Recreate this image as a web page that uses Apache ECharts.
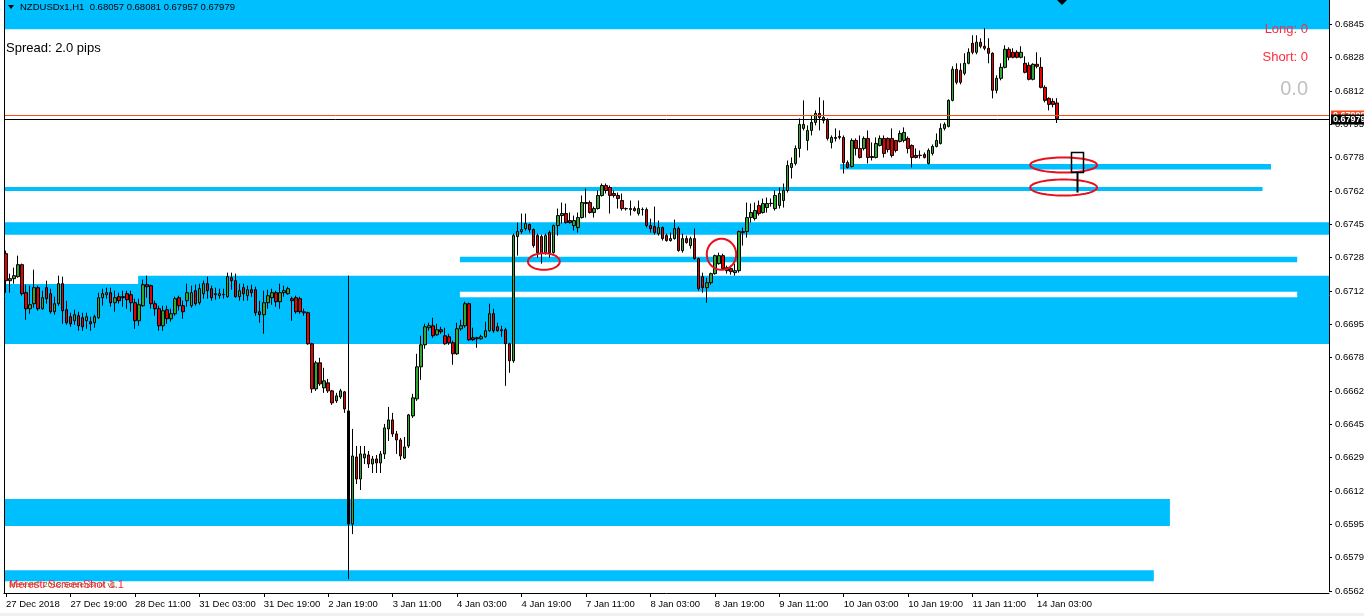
<!DOCTYPE html>
<html><head><meta charset="utf-8">
<script src="https://cdn.jsdelivr.net/npm/echarts@6/dist/echarts.min.js"></script>
<style>html,body{margin:0;padding:0;background:#fff;overflow:hidden}#chart{width:1364px;height:616px}</style>
</head><body><div id="chart"></div>
<script>
const headerText = 'NZDUSDx1,H1  0.68057 0.68081 0.67957 0.67979';
const xTickLabels = ['27 Dec 2018','27 Dec 19:00','28 Dec 11:00','31 Dec 03:00','31 Dec 19:00','2 Jan 19:00','3 Jan 11:00','4 Jan 03:00','4 Jan 19:00','7 Jan 11:00','8 Jan 03:00','8 Jan 19:00','9 Jan 11:00','10 Jan 03:00','10 Jan 19:00','11 Jan 11:00','14 Jan 03:00'];
const yTickLabels = ['0.65621','0.65790','0.65951','0.66120','0.66290','0.66451','0.66620','0.66784','0.66951','0.67120','0.67284','0.67451','0.67620','0.67781','0.67950','0.68120','0.68284','0.68450'];

const opens = [
0.67305,0.67170,0.67180,0.67190,0.67250,0.67110,0.67030,0.67055,0.67135,0.67030,
0.67135,0.67105,0.67015,0.67055,0.67155,0.67025,0.66990,0.66970,0.66995,0.66985,
0.66970,0.66965,0.66960,0.66985,0.67085,0.67100,0.67110,0.67060,0.67090,0.67090,
0.67105,0.67100,0.67060,0.66970,0.67045,0.67150,0.67145,0.67055,0.67030,0.66945,
0.67025,0.66980,0.67005,0.67085,0.67045,0.67070,0.67045,0.67120,0.67060,0.67105,
0.67155,0.67130,0.67105,0.67095,0.67100,0.67090,0.67185,0.67170,0.67090,0.67135,
0.67095,0.67125,0.67125,0.67015,0.67000,0.67060,0.67085,0.67110,0.67065,0.67110,
0.67105,0.67080,0.67085,0.67080,0.67015,0.67010,0.66855,0.66630,0.66760,0.66635,
0.66660,0.66620,0.66570,0.66590,0.66615,0.66520,0.65955,0.66290,0.66180,0.66285,
0.66300,0.66255,0.66280,0.66260,0.66305,0.66430,0.66475,0.66405,0.66375,0.66285,
0.66345,0.66495,0.66580,0.66740,0.66850,0.66935,0.66945,0.66900,0.66925,0.66895,
0.66890,0.66860,0.66805,0.66930,0.66945,0.67055,0.66885,0.66885,0.66880,0.66890,
0.66920,0.67005,0.66940,0.66925,0.66925,0.66855,0.66770,0.67390,0.67415,0.67430,
0.67450,0.67425,0.67395,0.67390,0.67310,0.67410,0.67310,0.67445,0.67495,0.67505,
0.67470,0.67445,0.67435,0.67485,0.67560,0.67560,0.67510,0.67530,0.67595,0.67645,
0.67635,0.67605,0.67595,0.67570,0.67530,0.67530,0.67530,0.67505,0.67525,0.67525,
0.67445,0.67440,0.67405,0.67435,0.67395,0.67370,0.67380,0.67430,0.67320,0.67380,
0.67345,0.67380,0.67280,0.67190,0.67135,0.67160,0.67205,0.67255,0.67295,0.67235,
0.67230,0.67210,0.67220,0.67415,0.67415,0.67485,0.67480,0.67545,0.67510,0.67535,
0.67555,0.67530,0.67545,0.67570,0.67620,0.67735,0.67755,0.67830,0.67930,0.67870,
0.67920,0.67960,0.68005,0.67970,0.67970,0.67860,0.67880,0.67890,0.67885,0.67760,
0.67740,0.67870,0.67830,0.67830,0.67880,0.67790,0.67785,0.67845,0.67880,0.67880,
0.67880,0.67870,0.67865,0.67870,0.67880,0.67845,0.67795,0.67795,0.67800,0.67755,
0.67805,0.67840,0.67855,0.67930,0.67940,0.68070,0.68225,0.68220,0.68205,0.68255,
0.68355,0.68310,0.68360,0.68340,0.68330,0.68305,0.68120,0.68180,0.68235,0.68325,
0.68310,0.68310,0.68285,0.68255,0.68245,0.68175,0.68250,0.68235,0.68135,0.68080,
0.68065,0.68057];
const highs = [
0.67320,0.67205,0.67235,0.67295,0.67255,0.67150,0.67145,0.67225,0.67145,0.67120,
0.67170,0.67130,0.67090,0.67195,0.67190,0.67070,0.67010,0.67025,0.67015,0.67010,
0.67010,0.66990,0.67000,0.67110,0.67130,0.67135,0.67135,0.67120,0.67110,0.67120,
0.67120,0.67120,0.67080,0.67080,0.67175,0.67195,0.67150,0.67070,0.67045,0.67045,
0.67045,0.67030,0.67090,0.67095,0.67070,0.67155,0.67145,0.67150,0.67155,0.67170,
0.67190,0.67145,0.67135,0.67130,0.67130,0.67210,0.67210,0.67205,0.67155,0.67155,
0.67145,0.67150,0.67140,0.67070,0.67120,0.67125,0.67130,0.67120,0.67155,0.67145,
0.67140,0.67090,0.67095,0.67090,0.67030,0.67015,0.66860,0.66770,0.66785,0.66735,
0.66680,0.66625,0.66610,0.66630,0.66620,0.66525,0.66430,0.66345,0.66345,0.66345,
0.66320,0.66295,0.66300,0.66320,0.66455,0.66540,0.66510,0.66420,0.66385,0.66390,
0.66505,0.66605,0.66805,0.66895,0.66955,0.66960,0.66985,0.66955,0.66940,0.66935,
0.66905,0.66870,0.66960,0.66975,0.67065,0.67060,0.66935,0.66890,0.66900,0.66965,
0.67055,0.67030,0.66960,0.66945,0.66935,0.66860,0.67405,0.67460,0.67505,0.67505,
0.67455,0.67430,0.67405,0.67400,0.67405,0.67420,0.67450,0.67530,0.67560,0.67555,
0.67510,0.67495,0.67510,0.67595,0.67630,0.67570,0.67540,0.67620,0.67655,0.67655,
0.67645,0.67620,0.67610,0.67605,0.67535,0.67570,0.67540,0.67570,0.67535,0.67535,
0.67480,0.67540,0.67470,0.67440,0.67405,0.67410,0.67475,0.67440,0.67405,0.67395,
0.67390,0.67430,0.67285,0.67210,0.67185,0.67210,0.67300,0.67310,0.67305,0.67245,
0.67245,0.67255,0.67420,0.67435,0.67560,0.67555,0.67560,0.67570,0.67580,0.67585,
0.67580,0.67620,0.67635,0.67655,0.67770,0.67785,0.67845,0.67980,0.68070,0.67945,
0.67995,0.68020,0.68085,0.68070,0.67980,0.67895,0.67930,0.67920,0.67895,0.67770,
0.67880,0.67880,0.67895,0.67890,0.67920,0.67860,0.67885,0.67895,0.67895,0.67885,
0.67930,0.67872,0.67920,0.67935,0.67890,0.67850,0.67830,0.67820,0.67810,0.67830,
0.67850,0.67905,0.67955,0.67960,0.68075,0.68240,0.68255,0.68255,0.68305,0.68330,
0.68395,0.68395,0.68380,0.68430,0.68380,0.68310,0.68195,0.68255,0.68345,0.68335,
0.68330,0.68320,0.68340,0.68290,0.68260,0.68255,0.68310,0.68285,0.68145,0.68085,
0.68080,0.68081];
const lows = [
0.67110,0.67110,0.67155,0.67185,0.67095,0.66975,0.67005,0.67035,0.67020,0.67025,
0.67055,0.67005,0.67000,0.67045,0.66955,0.66950,0.66940,0.66950,0.66920,0.66920,
0.66930,0.66920,0.66935,0.66980,0.67045,0.67080,0.67040,0.67015,0.67055,0.67040,
0.67030,0.67015,0.66930,0.66945,0.67040,0.67085,0.67030,0.66995,0.66920,0.66920,
0.66955,0.66965,0.66995,0.67020,0.66980,0.67040,0.67035,0.67045,0.67050,0.67080,
0.67080,0.67070,0.67075,0.67080,0.67080,0.67085,0.67125,0.67085,0.67070,0.67070,
0.67070,0.67090,0.66995,0.66960,0.66905,0.67030,0.67050,0.67040,0.67030,0.67090,
0.67100,0.66970,0.67005,0.67005,0.66995,0.66850,0.66610,0.66620,0.66645,0.66610,
0.66610,0.66550,0.66560,0.66580,0.66510,0.65945,0.65905,0.66155,0.66125,0.66255,
0.66235,0.66210,0.66210,0.66210,0.66280,0.66370,0.66390,0.66305,0.66275,0.66280,
0.66335,0.66485,0.66570,0.66675,0.66830,0.66920,0.66885,0.66895,0.66905,0.66850,
0.66850,0.66750,0.66800,0.66920,0.66935,0.66870,0.66870,0.66835,0.66875,0.66885,
0.66915,0.66910,0.66915,0.66890,0.66645,0.66710,0.66760,0.67295,0.67405,0.67420,
0.67410,0.67335,0.67285,0.67255,0.67300,0.67285,0.67305,0.67395,0.67455,0.67455,
0.67455,0.67420,0.67410,0.67480,0.67485,0.67505,0.67485,0.67525,0.67590,0.67605,
0.67505,0.67585,0.67530,0.67520,0.67520,0.67495,0.67515,0.67495,0.67495,0.67435,
0.67410,0.67400,0.67395,0.67370,0.67365,0.67365,0.67375,0.67315,0.67310,0.67355,
0.67330,0.67275,0.67120,0.67110,0.67060,0.67150,0.67200,0.67250,0.67225,0.67205,
0.67200,0.67195,0.67210,0.67345,0.67385,0.67460,0.67470,0.67495,0.67505,0.67510,
0.67540,0.67520,0.67530,0.67535,0.67610,0.67680,0.67745,0.67785,0.67920,0.67820,
0.67895,0.67945,0.67920,0.67955,0.67870,0.67830,0.67865,0.67875,0.67705,0.67730,
0.67735,0.67795,0.67780,0.67820,0.67755,0.67770,0.67780,0.67840,0.67785,0.67810,
0.67785,0.67810,0.67860,0.67860,0.67805,0.67735,0.67780,0.67780,0.67780,0.67750,
0.67795,0.67835,0.67850,0.67920,0.67935,0.68065,0.68150,0.68150,0.68195,0.68250,
0.68300,0.68300,0.68330,0.68320,0.68255,0.68080,0.68105,0.68170,0.68230,0.68270,
0.68280,0.68280,0.68280,0.68205,0.68170,0.68170,0.68230,0.68130,0.68060,0.68020,
0.68035,0.67957];
const closes = [
0.67170,0.67180,0.67195,0.67250,0.67105,0.67030,0.67050,0.67135,0.67030,0.67085,
0.67080,0.67015,0.67055,0.67155,0.67020,0.66960,0.66955,0.67000,0.66945,0.66940,
0.66990,0.66955,0.66990,0.67085,0.67105,0.67110,0.67060,0.67085,0.67070,0.67085,
0.67075,0.67060,0.66970,0.67050,0.67150,0.67140,0.67055,0.67030,0.66945,0.67020,
0.66980,0.67005,0.67080,0.67045,0.67015,0.67110,0.67110,0.67055,0.67130,0.67155,
0.67120,0.67085,0.67100,0.67105,0.67101,0.67190,0.67170,0.67090,0.67120,0.67105,
0.67125,0.67110,0.67010,0.67000,0.67060,0.67095,0.67110,0.67065,0.67110,0.67120,
0.67130,0.67070,0.67015,0.67015,0.67010,0.66855,0.66630,0.66760,0.66655,0.66670,
0.66620,0.66560,0.66595,0.66620,0.66530,0.65955,0.66295,0.66180,0.66305,0.66305,
0.66255,0.66280,0.66260,0.66305,0.66435,0.66475,0.66405,0.66375,0.66295,0.66340,
0.66500,0.66585,0.66740,0.66850,0.66940,0.66945,0.66895,0.66925,0.66915,0.66855,
0.66860,0.66805,0.66930,0.66945,0.67055,0.66875,0.66875,0.66880,0.66890,0.66920,
0.67005,0.66920,0.66920,0.66920,0.66855,0.66770,0.67395,0.67415,0.67425,0.67455,
0.67425,0.67345,0.67310,0.67305,0.67395,0.67310,0.67445,0.67495,0.67505,0.67460,
0.67460,0.67470,0.67485,0.67560,0.67555,0.67510,0.67530,0.67595,0.67645,0.67620,
0.67595,0.67595,0.67580,0.67530,0.67529,0.67525,0.67520,0.67530,0.67526,0.67445,
0.67430,0.67410,0.67435,0.67380,0.67370,0.67380,0.67430,0.67320,0.67380,0.67360,
0.67380,0.67280,0.67130,0.67135,0.67160,0.67205,0.67295,0.67295,0.67230,0.67220,
0.67215,0.67220,0.67415,0.67410,0.67485,0.67510,0.67520,0.67505,0.67555,0.67555,
0.67556,0.67595,0.67605,0.67620,0.67745,0.67755,0.67830,0.67950,0.67950,0.67920,
0.67960,0.68005,0.67985,0.67985,0.67880,0.67885,0.67885,0.67885,0.67760,0.67735,
0.67870,0.67830,0.67785,0.67880,0.67785,0.67785,0.67855,0.67880,0.67805,0.67825,
0.67795,0.67820,0.67905,0.67910,0.67830,0.67785,0.67785,0.67796,0.67785,0.67820,
0.67840,0.67870,0.67930,0.67950,0.68070,0.68225,0.68160,0.68160,0.68255,0.68310,
0.68310,0.68360,0.68340,0.68330,0.68305,0.68120,0.68180,0.68235,0.68325,0.68285,
0.68285,0.68285,0.68310,0.68210,0.68175,0.68250,0.68240,0.68135,0.68070,0.68050,
0.68050,0.67979];

const bidPrice = 0.67979;
const askPrice = 0.67999;

// drawn objects: [fromBar, toBar, topPrice, bottomPrice]
const blueZones = [
  [-0.5, 328.5, 0.68700, 0.68425],
  [-0.5, 312.0, 0.67638, 0.67618],
  [207.1, 314.1, 0.67753, 0.67725],
  [-0.5, 328.5, 0.67462, 0.67399],
  [112.7, 320.6, 0.67290, 0.67262],
  [-0.5, 328.5, 0.67154, 0.66854],
  [32.8, 328.5, 0.67195, 0.66854],
  [-0.5, 289.0, 0.66080, 0.65945],
  [-0.5, 285.0, 0.65725, 0.65670]
];
const whiteZones = [
  [112.7, 320.6, 0.67115, 0.67087]
];
const ellipses = [
  [129.6, 137.5, 0.67307, 0.67224],
  [174.0, 181.3, 0.67379, 0.67224],
  [254.3, 270.9, 0.67785, 0.67710],
  [254.3, 270.9, 0.67675, 0.67595]
];
const boxMark = [264.4, 267.4, 0.67810, 0.67710, 0.67610];
const vLine = [85, 0.67195, 0.65680];

const BASE = 0.65621;
const TOP = 0.68571;
const Y_STEP = 0.0016641;
const SLOTS = 329;
const LABEL_EVERY = 16;
const FONT = '"Liberation Sans", Arial, sans-serif';

const cats = Array.from({length: SLOTS}, (_, i) => String(i));
const candleData = opens.map((o, i) => [o - BASE, closes[i] - BASE, lows[i] - BASE, highs[i] - BASE]);
const toOff = z => [z[0], z[1], z[2] - BASE, z[3] - BASE];

const labelShown = i => i % LABEL_EVERY === 0 && (i / LABEL_EVERY) < xTickLabels.length;

function rectRenderer(fill) {
  return function (params, api) {
    const p0 = api.coord([api.value(0), api.value(2)]);
    const p1 = api.coord([api.value(1), api.value(3)]);
    const cs = params.coordSys;
    const shape = echarts.graphic.clipRectByRect(
      {x: p0[0], y: p0[1], width: p1[0] - p0[0], height: p1[1] - p0[1]},
      {x: cs.x, y: cs.y, width: cs.width, height: cs.height});
    return shape && {type: 'rect', shape: shape, style: {fill: fill}};
  };
}

function priceLineRenderer(color, text) {
  return function (params, api) {
    const cs = params.coordSys;
    const p = api.coord([0, api.value(0)]);
    const y = Math.round(p[1]) + 0.5;
    return {type: 'group', children: [
      {type: 'line', shape: {x1: cs.x, y1: y, x2: cs.x + cs.width, y2: y}, style: {stroke: color, lineWidth: 1}},
      {type: 'rect', shape: {x: cs.x + cs.width + 2, y: y - 5, width: 40, height: 10}, style: {fill: color}},
      {type: 'text', style: {text: text, x: cs.x + cs.width + 4, y: y, font: 'bold 9px ' + FONT, fill: '#fff', textAlign: 'left', textVerticalAlign: 'middle', align: 'left', verticalAlign: 'middle'}}
    ]};
  };
}

const chart = echarts.init(document.getElementById('chart'), null, {renderer: 'canvas'});
chart.setOption({
  animation: false,
  backgroundColor: '#fff',
  grid: {left: 4, right: 35, top: 0, bottom: 25, containLabel: false, outerBoundsMode: 'none'},
  xAxis: [{
    type: 'category', data: cats, boundaryGap: true, offset: 2,
    axisLine: {show: true, onZero: false, lineStyle: {color: '#000', width: 1}},
    axisTick: {show: true, alignWithLabel: true, interval: labelShown, length: 4, lineStyle: {color: '#000'}},
    axisLabel: {interval: labelShown, formatter: (v, i) => xTickLabels[i / LABEL_EVERY] || '',
      align: 'left', fontSize: 9.5, fontFamily: FONT, color: '#000', margin: 6},
    splitLine: {show: false}
  }, {
    type: 'value', min: -0.5, max: SLOTS - 0.5, show: false
  }],
  yAxis: {
    type: 'value', position: 'right', min: 0, max: TOP - BASE, interval: Y_STEP,
    splitLine: {show: false},
    axisLine: {show: true, onZero: false, lineStyle: {color: '#000', width: 1}},
    axisTick: {show: true, length: 3, lineStyle: {color: '#000'}},
    axisLabel: {margin: 6, fontSize: 9.5, fontFamily: FONT, color: '#000', showMaxLabel: false,
      formatter: v => { const i = Math.round(v / Y_STEP); return Math.abs(v - i * Y_STEP) < 1e-7 ? (yTickLabels[i] || '') : ''; }}
  },
  series: [
    {type: 'custom', xAxisIndex: 1, yAxisIndex: 0, z: 1, silent: true,
     data: blueZones.map(toOff), renderItem: rectRenderer('#00bfff')},
    {type: 'custom', xAxisIndex: 1, yAxisIndex: 0, z: 1, silent: true,
     data: whiteZones.map(toOff), renderItem: rectRenderer('#ffffff')},
    {type: 'candlestick', xAxisIndex: 0, yAxisIndex: 0, z: 2, barWidth: 3,
     data: candleData,
     itemStyle: {color: '#2fa82f', color0: '#e80000', borderColor: '#000', borderColor0: '#000', borderColorDoji: '#000', borderWidth: 1}},
    {type: 'custom', xAxisIndex: 1, yAxisIndex: 0, z: 3, silent: true,
     data: [[vLine[0], vLine[1] - BASE, vLine[2] - BASE]],
     renderItem: (params, api) => {
       const a = api.coord([api.value(0), api.value(1)]);
       const b = api.coord([api.value(0), api.value(2)]);
       return {type: 'line', shape: {x1: Math.round(a[0]) + 0.5, y1: a[1], x2: Math.round(b[0]) + 0.5, y2: b[1]}, style: {stroke: '#000', lineWidth: 1}};
     }},
    {type: 'custom', xAxisIndex: 1, yAxisIndex: 0, z: 5, silent: true,
     data: [[askPrice - BASE]], renderItem: priceLineRenderer('#ff4a1a', askPrice.toFixed(5))},
    {type: 'custom', xAxisIndex: 1, yAxisIndex: 0, z: 6, silent: true,
     data: [[bidPrice - BASE]], renderItem: priceLineRenderer('#000000', bidPrice.toFixed(5))},
    {type: 'custom', xAxisIndex: 1, yAxisIndex: 0, z: 4, silent: true,
     data: ellipses.map(toOff),
     renderItem: (params, api) => {
       const p0 = api.coord([api.value(0), api.value(2)]);
       const p1 = api.coord([api.value(1), api.value(3)]);
       const cx = (p0[0] + p1[0]) / 2, cy = (p0[1] + p1[1]) / 2;
       const rx = Math.abs(p1[0] - p0[0]) / 2, ry = Math.abs(p1[1] - p0[1]) / 2;
       const pts = [];
       for (let t = 0; t < 72; t++) { const a = t / 72 * Math.PI * 2; pts.push([cx + rx * Math.cos(a), cy + ry * Math.sin(a)]); }
       return {type: 'polygon', shape: {points: pts}, style: {fill: 'none', stroke: '#e8101c', lineWidth: 2}};
     }},
    {type: 'custom', xAxisIndex: 1, yAxisIndex: 0, z: 4, silent: true,
     data: [[boxMark[0], boxMark[1], boxMark[2] - BASE, boxMark[3] - BASE, boxMark[4] - BASE]],
     renderItem: (params, api) => {
       const p0 = api.coord([api.value(0), api.value(2)]);
       const p1 = api.coord([api.value(1), api.value(3)]);
       const s = api.coord([(api.value(0) + api.value(1)) / 2, api.value(4)]);
       const mx = Math.round((p0[0] + p1[0]) / 2) + 0.5;
       return {type: 'group', children: [
         {type: 'rect', shape: {x: Math.round(p0[0]) + 0.5, y: Math.round(p0[1]) + 0.5, width: Math.round(p1[0] - p0[0]), height: Math.round(p1[1] - p0[1])}, style: {fill: 'none', stroke: '#000', lineWidth: 1.5}},
         {type: 'line', shape: {x1: mx, y1: p1[1], x2: mx, y2: s[1]}, style: {stroke: '#000', lineWidth: 2}}
       ]};
     }}
  ],
  graphic: [
    {type: 'line', z: 100, shape: {x1: 4.5, y1: 0, x2: 4.5, y2: 593}, style: {stroke: '#000', lineWidth: 1}},
    {type: 'rect', z: 100, shape: {x: 0, y: 613, width: 1364, height: 3}, style: {fill: '#f0f0f0'}},
    {type: 'polygon', z: 100, shape: {points: [[8, 5], [14, 5], [11, 9]]}, style: {fill: '#000'}},
    {type: 'polygon', z: 100, shape: {points: [[1057, 0], [1067, 0], [1062, 5]]}, style: {fill: '#000'}},
    {type: 'text', z: 100, style: {text: headerText, x: 20, y: 7.5, font: '9.5px ' + FONT, fill: '#000', textAlign: 'left', textVerticalAlign: 'middle', align: 'left', verticalAlign: 'middle'}},
    {type: 'text', z: 100, style: {text: 'Spread: 2.0 pips', x: 6, y: 48.5, font: '13px ' + FONT, fill: '#000', textAlign: 'left', textVerticalAlign: 'middle', align: 'left', verticalAlign: 'middle'}},
    {type: 'text', z: 100, style: {text: 'Long: 0', x: 1308, y: 29.5, font: '13px ' + FONT, fill: '#ff2b3a', textAlign: 'right', textVerticalAlign: 'middle', align: 'right', verticalAlign: 'middle'}},
    {type: 'text', z: 100, style: {text: 'Short: 0', x: 1308, y: 57.5, font: '13px ' + FONT, fill: '#ff2b3a', textAlign: 'right', textVerticalAlign: 'middle', align: 'right', verticalAlign: 'middle'}},
    {type: 'text', z: 100, style: {text: '0.0', x: 1308, y: 89.5, font: '20px ' + FONT, fill: '#c0c0c0', textAlign: 'right', textVerticalAlign: 'middle', align: 'right', verticalAlign: 'middle'}},
    {type: 'text', z: 100, style: {text: 'Meresti\u00a9 2018 ScreenShot v1', x: 9, y: 585, font: '8px ' + FONT, fill: '#7a5a00', textAlign: 'left', textVerticalAlign: 'middle', align: 'left', verticalAlign: 'middle'}},
    {type: 'text', z: 101, style: {text: 'Meresti ScreenShot 1.1', x: 9, y: 585, font: '11px ' + FONT, fill: '#ff2040', textAlign: 'left', textVerticalAlign: 'middle', align: 'left', verticalAlign: 'middle'}}
  ]
});
</script>
</body></html>
